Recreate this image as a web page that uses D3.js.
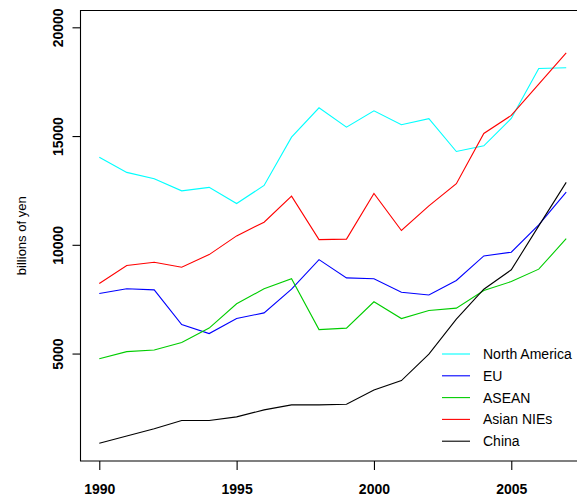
<!DOCTYPE html>
<html>
<head>
<meta charset="utf-8">
<script src="https://cdn.jsdelivr.net/npm/d3@7"></script>
<style>
  body { margin: 0; background: #fff; }
  text { font-family: "Liberation Sans", Arial, Helvetica, sans-serif; fill: #000; }
  .tick-label { font-size: 14px; font-weight: bold; }
  .legend-text { font-size: 14px; }
  .ylabel { font-size: 13px; }
</style>
</head>
<body>
<script>
var years = [1990, 1991, 1992, 1993, 1994, 1995, 1996, 1997, 1998, 1999,
             2000, 2001, 2002, 2003, 2004, 2005, 2006, 2007];

var northAmerica = [14030, 13330, 13040, 12480, 12640, 11900, 12730, 14950, 16300, 15410,
                    16160, 15520, 15800, 14290, 14550, 15810, 18110, 18140];
var eu = [7760, 7980, 7930, 6330, 5920, 6610, 6870, 7960, 9320, 8480,
          8440, 7820, 7690, 8360, 9490, 9660, 10920, 12420];
var asean = [4760, 5090, 5160, 5510, 6170, 7290, 7980, 8440, 6100, 6170,
             7380, 6610, 6980, 7090, 7900, 8310, 8880, 10280];
var asianNIEs = [8220, 9050, 9200, 8970, 9550, 10410, 11040, 12240, 10240, 10260,
                 12360, 10660, 11790, 12810, 15120, 15950, 17390, 18820];
var china = [880, 1210, 1540, 1920, 1920, 2090, 2410, 2640, 2640, 2670,
             3320, 3760, 4970, 6580, 7960, 8850, 10870, 12870];

var seriesNames = ["North America", "EU", "ASEAN", "Asian NIEs", "China"];
var seriesColors = ["#00ffff", "#0000ff", "#00cd00", "#ff0000", "#000000"];
var seriesValues = [northAmerica, eu, asean, asianNIEs, china];

var xTicks = [1990, 1995, 2000, 2005];
var yTicks = [5000, 10000, 15000, 20000];

var svg = d3.select("body").append("svg")
    .attr("width", 577)
    .attr("height", 500);

svg.append("rect").attr("width", 577).attr("height", 500).attr("fill", "#fff");

// plot region (R style, right side runs past the picture)
var box = { left: 80.5, top: 10.5, right: 585, bottom: 461 };

var x = d3.scaleLinear()
    .domain([1989.316, 2007.684])
    .range([box.left, box.right]);

var y = d3.scaleLinear()
    .domain([60, 20773])
    .range([box.bottom, box.top]);

var line = d3.line()
    .x(function (d, i) { return x(years[i]); })
    .y(function (d) { return y(d); });

// lines
svg.append("g")
    .selectAll("path")
    .data(seriesValues)
    .enter().append("path")
    .attr("fill", "none")
    .attr("stroke", function (d, i) { return seriesColors[i]; })
    .attr("stroke-width", 1.1)
    .attr("d", line);

// frame
svg.append("path")
    .attr("fill", "none")
    .attr("stroke", "#000")
    .attr("stroke-width", 1.1)
    .attr("d", "M" + box.right + "," + box.top + "H" + box.left + "V" + box.bottom + "H" + box.right);

// y axis
var yAxis = svg.append("g")
    .attr("transform", "translate(" + box.left + ",0)")
    .call(d3.axisLeft(y).tickValues(yTicks).tickSize(8).tickPadding(0).tickFormat(d3.format("d")));
yAxis.select(".domain").remove();
yAxis.selectAll(".tick line").attr("stroke", "#000").attr("stroke-width", 1.1);
yAxis.selectAll(".tick text")
    .attr("class", "tick-label")
    .attr("font-family", null)
    .attr("font-size", null)
    .attr("transform", "rotate(-90)")
    .attr("x", 0)
    .attr("y", -18)
    .attr("dy", 0)
    .style("text-anchor", "middle");

// x axis
var xAxis = svg.append("g")
    .attr("transform", "translate(0," + box.bottom + ")")
    .call(d3.axisBottom(x).tickValues(xTicks).tickSize(9).tickPadding(0).tickFormat(d3.format("d")));
xAxis.select(".domain").remove();
xAxis.selectAll(".tick line").attr("stroke", "#000").attr("stroke-width", 1.1);
xAxis.selectAll(".tick text")
    .attr("class", "tick-label")
    .attr("font-family", null)
    .attr("font-size", null)
    .attr("y", 33)
    .attr("dy", 0);

// y label
svg.append("text")
    .attr("class", "ylabel")
    .attr("transform", "translate(26," + ((box.top + box.bottom) / 2) + ") rotate(-90)")
    .style("text-anchor", "middle")
    .text("billions of yen");

// legend
var legend = svg.append("g")
    .attr("transform", "translate(442,354)")
    .selectAll("g")
    .data(seriesNames)
    .enter().append("g")
    .attr("transform", function (d, i) { return "translate(0," + (i * 21.8) + ")"; });

legend.append("line")
    .attr("x1", 0)
    .attr("x2", 28)
    .attr("stroke", function (d, i) { return seriesColors[i]; })
    .attr("stroke-width", 1.1);

legend.append("text")
    .attr("class", "legend-text")
    .attr("x", 41)
    .attr("dy", "0.36em")
    .text(function (d) { return d; });
</script>
</body>
</html>
